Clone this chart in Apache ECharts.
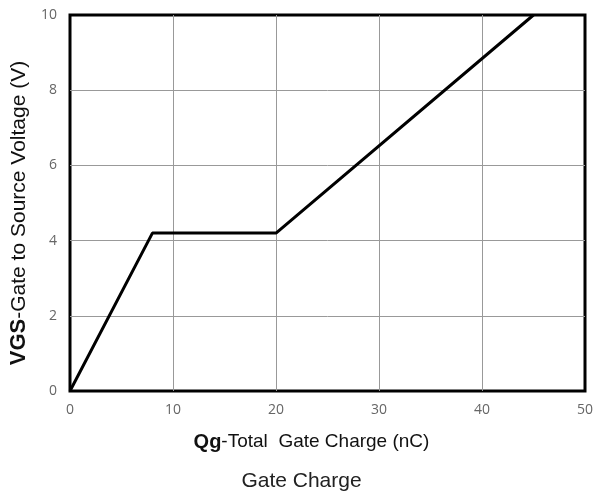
<!DOCTYPE html>
<html>
<head>
    <meta charset="utf-8">
    <title>Gate Charge</title>
    <script src="https://cdn.jsdelivr.net/npm/echarts@6/dist/echarts.min.js"></script>
</head>
<body style="margin:0;background:#fff">
    <div id="main" style="width:603px;height:495px;"></div>
    <script>
        // gate charge curve points (nC, V)
        var chargeNC = [0, 8, 20, 45];
        var voltageV = [0, 4.2, 4.2, 10];

        var chart = echarts.init(document.getElementById('main'));

        var option = {
            backgroundColor: '#fff',
            title: {
                text: 'Gate Charge',
                left: 'center',
                top: 466,
                textStyle: { fontFamily: 'Liberation Sans', fontSize: 21, fontWeight: 'normal', color: '#222' }
            },
            grid: {
                left: 70, right: 18, top: 15, bottom: 104,
                outerBoundsMode: 'none',
                show: true, borderColor: '#000', borderWidth: 3
            },
            xAxis: {
                type: 'value', min: 0, max: 50, interval: 10,
                name: '{b|Qg}-Total  Gate Charge (nC)',
                nameLocation: 'middle', nameGap: 41,
                nameTextStyle: {
                    fontFamily: 'Liberation Sans', fontSize: 19, color: '#111',
                    padding: [0, 32, 0, 0],
                    rich: { b: { fontWeight: 'bold', fontSize: 20, fontFamily: 'Liberation Sans', color: '#111' } }
                },
                axisLine: { show: false },
                axisTick: { show: false },
                axisLabel: { color: '#666', fontSize: 14, margin: 12, fontFamily: 'Open Sans' },
                splitLine: { showMinLine: false, showMaxLine: false, lineStyle: { color: '#999', width: 1 } }
            },
            yAxis: {
                type: 'value', min: 0, max: 10, interval: 2,
                name: '{b|VGS}-Gate to Source Voltage (V)',
                nameLocation: 'middle', nameGap: 40,
                nameTextStyle: {
                    fontFamily: 'Liberation Sans', fontSize: 21, color: '#111',
                    padding: [0, 20, 0, 0],
                    rich: { b: { fontWeight: 'bold', fontSize: 22, fontFamily: 'Liberation Sans', color: '#111' } }
                },
                axisLine: { show: false },
                axisTick: { show: false },
                axisLabel: { color: '#666', fontSize: 14, margin: 13, fontFamily: 'Open Sans' },
                splitLine: { showMinLine: false, showMaxLine: false, lineStyle: { color: '#999', width: 1 } }
            },
            series: [{
                type: 'line',
                data: chargeNC.map(function (x, i) { return [x, voltageV[i]]; }),
                symbol: 'none',
                lineStyle: { color: '#000', width: 3 },
                animation: false
            }]
        };

        chart.setOption(option);
    </script>
</body>
</html>
